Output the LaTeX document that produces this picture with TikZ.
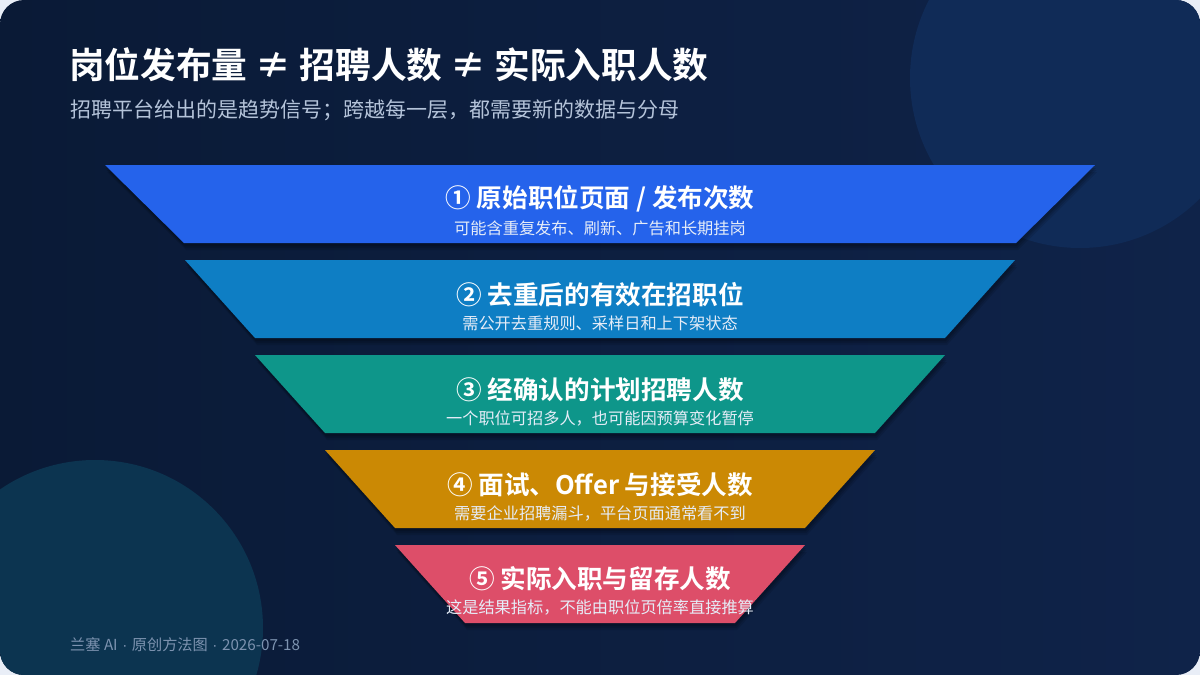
\documentclass[tikz,border=0pt]{standalone}
\usepackage{fontspec}
\setmainfont{Noto Sans CJK SC}[BoldFont={Noto Sans CJK SC Bold}]
\newfontfamily\dotfont{Liberation Sans}
\usetikzlibrary{calc}
\definecolor{outerbg}{HTML}{E9EEF7}
\definecolor{bgL}{HTML}{0A1A36}
\definecolor{bgR}{HTML}{0F2349}
\definecolor{circTR}{HTML}{102B57}
\definecolor{circBL}{HTML}{0C3450}
\definecolor{cA}{HTML}{2563EB}
\definecolor{cB}{HTML}{0E7EC4}
\definecolor{cC}{HTML}{0E968A}
\definecolor{cD}{HTML}{CB8904}
\definecolor{cE}{HTML}{DD4E69}
\definecolor{subtitle}{HTML}{B4C3D9}
\definecolor{footer}{HTML}{7D93B0}
\definecolor{bandsub}{HTML}{E6EDF8}
\tikzset{
  bandtitle/.style={text=white, font=\bfseries\fontsize{25.6}{29}\selectfont, inner sep=0pt, anchor=center},
  bandnote/.style={text=bandsub, font=\fontsize{16.2}{19}\selectfont, inner sep=0pt, anchor=center},
}
\newcommand{\bandshape}[6]{%
  % #1 color, #2 top y, #3 bottom y, #4 top left x, #5 bottom left x, #6 name
  \foreach \k/\o in {7/0.10,5/0.12,3/0.14}{
    \fill[black, opacity=\o] (#4+\k*0.3,#2+\k) -- (1200-#4+\k*0.3,#2+\k) -- (1200-#5+\k*0.3,#3+\k) -- (#5+\k*0.3,#3+\k) -- cycle;
  }
  \fill[#1] (#4,#2) -- (1200-#4,#2) -- (1200-#5,#3) -- (#5,#3) -- cycle;
  \coordinate (#6) at (600,{(#2+#3)/2});
}
\newcommand{\md}{\hspace{0.3em}{\dotfont ·}\hspace{0.3em}}
\begin{document}
\begin{tikzpicture}[x=1pt,y=-1pt]
\useasboundingbox (0,0) rectangle (1200,675);
\fill[outerbg] (0,0) rectangle (1200,675);
\begin{scope}
\clip[rounded corners=24pt] (0,0) rectangle (1200,675);
\shade[left color=bgL, right color=bgR] (0,0) rectangle (1200,675);
\fill[circTR] (1080,78) circle (170);
\fill[circBL] (95,628) circle (168);
\end{scope}

% title
\node[anchor=west, inner sep=0pt, text=white, font=\bfseries\fontsize{35.7}{40}\selectfont] (title) at (69,65) {岗位发布量 ≠ 招聘人数 ≠ 实际入职人数};
\node[anchor=west, inner sep=0pt, text=subtitle, font=\fontsize{21}{24}\selectfont] (sub) at (70,110) {招聘平台给出的是趋势信号；跨越每一层，都需要新的数据与分母};

% funnel
\bandshape{cA}{165}{243}{105}{184}{b1}
\bandshape{cB}{260}{338}{185}{255}{b2}
\bandshape{cC}{355}{433}{255}{325}{b3}
\bandshape{cD}{450}{528}{325}{395}{b4}
\bandshape{cE}{545}{623}{395}{465}{b5}

\node[bandtitle] (t1) at (600,199) {① 原始职位页面 / 发布次数};
\node[bandnote] (n1) at (600,228) {可能含重复发布、刷新、广告和长期挂岗};
\node[bandtitle] (t2) at (600,295) {② 去重后的有效在招职位};
\node[bandnote] (n2) at (600,323) {需公开去重规则、采样日和上下架状态};
\node[bandtitle] (t3) at (600,390) {③ 经确认的计划招聘人数};
\node[bandnote] (n3) at (600,418) {一个职位可招多人，也可能因预算变化暂停};
\node[bandtitle] (t4) at (600,485) {④ 面试、Offer 与接受人数};
\node[bandnote] (n4) at (600,513) {需要企业招聘漏斗，平台页面通常看不到};
\node[bandtitle] (t5) at (600,579) {⑤ 实际入职与留存人数};
\node[bandnote] (n5) at (600,607) {这是结果指标，不能由职位页倍率直接推算};

% footer
\node[anchor=west, inner sep=0pt, text=footer, font=\fontsize{15.2}{17}\selectfont] (foot) at (70,645) {兰塞 AI\md 原创方法图\md 2026-07-18};
\end{tikzpicture}
\end{document}
